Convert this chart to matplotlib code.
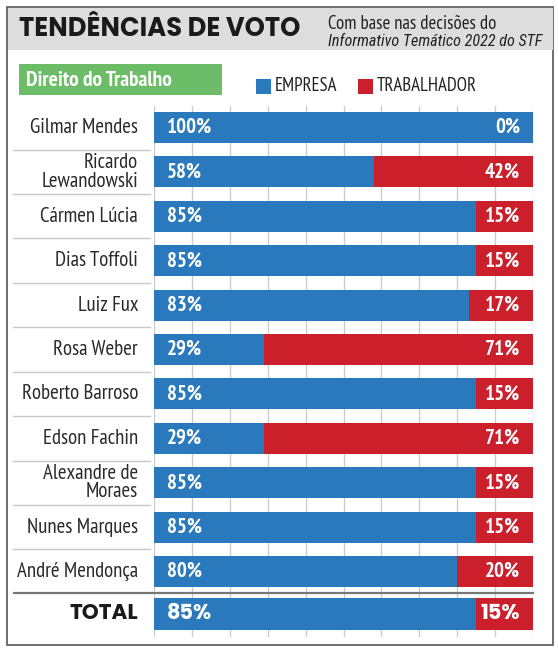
import matplotlib.pyplot as plt
from matplotlib import font_manager
from matplotlib.patches import Rectangle

# ---------------- data ----------------
names = ['Gilmar Mendes', 'Ricardo\nLewandowski', 'Cármen Lúcia', 'Dias Toffoli',
         'Luiz Fux', 'Rosa Weber', 'Roberto Barroso', 'Edson Fachin',
         'Alexandre de\nMoraes', 'Nunes Marques', 'André Mendonça']
empresa = [100, 58, 85, 85, 83, 29, 85, 29, 85, 85, 80]
trabalhador = [0, 42, 15, 15, 17, 71, 15, 71, 15, 15, 20]
total_empresa = 85
total_trabalhador = 15

BLUE = '#2a79bd'
RED = '#cb1f2b'
GREEN = '#6dbd68'
GREY_HEAD = '#dddddd'

fonts = font_manager.fontManager.ttflist


def has(name, style='normal', min_w=0):
    for f in fonts:
        if f.name == name and f.style == style:
            try:
                w = int(f.weight)
            except ValueError:
                w = 400
            if w >= min_w:
                return True
    return False


def pick(options, style='normal', min_w=0):
    for name in options:
        if has(name, style, min_w):
            return [name, 'DejaVu Sans']
    return ['DejaVu Sans']


NARROW = pick(['PT Sans Narrow', 'Roboto Condensed', 'Asap Condensed', 'Archivo Narrow'], min_w=700)
NARROW_IT = pick(['Roboto Condensed', 'Asap Condensed', 'Barlow Semi Condensed',
                  'Archivo Narrow', 'Encode Sans Condensed'], style='italic')
HEAVY = pick(['Poppins', 'Montserrat', 'Raleway', 'Lato', 'Open Sans'], min_w=800)

W, H = 558, 653
dpi = 100
fig = plt.figure(figsize=(W / dpi, H / dpi), dpi=dpi, facecolor='white')


def fx(px):
    return px / W


def fy(py):
    return 1 - py / H


############## frame + header ##############
fig.patches.append(Rectangle((fx(7), fy(645)), fx(553) - fx(7), fy(7) - fy(645),
                             transform=fig.transFigure, fill=False, ec='#555555', lw=1.2))
fig.patches.append(Rectangle((fx(7.5), fy(50)), fx(552.5) - fx(7.5), fy(7.5) - fy(50),
                             transform=fig.transFigure, fc=GREY_HEAD, ec='none'))
fig.text(fx(19), fy(30), 'TENDÊNCIAS DE VOTO', family=HEAVY, weight=700,
         fontsize=18.5, color='#1a1a1a', va='center', ha='left')
fig.text(fx(328), fy(24), 'Com base nas decisões do', family=NARROW,
         fontsize=13.5, color='#222222', va='center', ha='left')
fig.text(fx(328), fy(41), 'Informativo Temático 2022 do STF', family=NARROW_IT, style='italic',
         fontsize=11.6, color='#222222', va='center', ha='left')

############## green tag + legend ##############
fig.patches.append(Rectangle((fx(19), fy(95)), fx(222) - fx(19), fy(64) - fy(95),
                             transform=fig.transFigure, fc=GREEN, ec='none'))
fig.text(fx(26), fy(80), 'Direito do Trabalho', family=NARROW, weight='bold',
         fontsize=15.5, color='white', va='center', ha='left')

fig.patches.append(Rectangle((fx(256), fy(94)), fx(15), fy(0) - fy(15),
                             transform=fig.transFigure, fc=BLUE, ec='none'))
fig.text(fx(275), fy(86), 'EMPRESA', family=NARROW, fontsize=13.5,
         color='#222222', va='center', ha='left')
fig.patches.append(Rectangle((fx(358), fy(94)), fx(15), fy(0) - fy(15),
                             transform=fig.transFigure, fc=RED, ec='none'))
fig.text(fx(377), fy(86), 'TRABALHADOR', family=NARROW, fontsize=13.5,
         color='#222222', va='center', ha='left')

############## bars ##############
x0, x1 = 154, 533
top, bottom = 106, 637
ax = fig.add_axes([fx(x0), fy(bottom), fx(x1) - fx(x0), fy(top) - fy(bottom)])
ax.set_xlim(0, 100)
ax.set_ylim(11.475, -0.484)
ax.axis('off')

scale = (x1 - x0) / 100.0


def dx(px):
    return (px - x0) / scale


for g in range(0, 101, 10):
    ax.axvline(g, color='#cccccc', lw=1, zorder=0)

rows = list(range(len(names)))
ax.barh(rows, empresa, height=0.7, color=BLUE, zorder=2)
ax.barh(rows, trabalhador, left=empresa, height=0.7, color=RED, zorder=2)

for i in rows:
    ax.text(dx(138), i, names[i], family=NARROW, fontsize=15, color='#2a2a2a',
            ha='right', va='center', linespacing=0.95, clip_on=False)
    ax.text(dx(167), i, f'{empresa[i]}%', family=NARROW, weight='bold', fontsize=15,
            color='white', ha='left', va='center', zorder=3)
    ax.text(dx(520), i, f'{trabalhador[i]}%', family=NARROW, weight='bold', fontsize=15,
            color='white', ha='right', va='center', zorder=3)
    if i < len(names) - 1:
        ax.plot([dx(13), dx(150)], [i + 0.5, i + 0.5], color='#c8c8c8', lw=1, clip_on=False)

t = 10.957
ax.plot([dx(14), dx(533)], [t - 0.48, t - 0.48], color='#777777', lw=1.6, clip_on=False, zorder=1)
ax.barh([t], [total_empresa], height=0.72, color=BLUE, zorder=2)
ax.barh([t], [total_trabalhador], left=[total_empresa], height=0.72, color=RED, zorder=2)
ax.text(dx(138), t, 'TOTAL', family=HEAVY, weight=700, fontsize=15.5, color='#1a1a1a',
        ha='right', va='center', clip_on=False)
ax.text(dx(167), t, f'{total_empresa}%', family=HEAVY, weight=700, fontsize=15,
        color='white', ha='left', va='center', zorder=3)
ax.text(dx(520), t, f'{total_trabalhador}%', family=HEAVY, weight=700, fontsize=15,
        color='white', ha='right', va='center', zorder=3)

fig.savefig('out.png', dpi=dpi, facecolor='white')
